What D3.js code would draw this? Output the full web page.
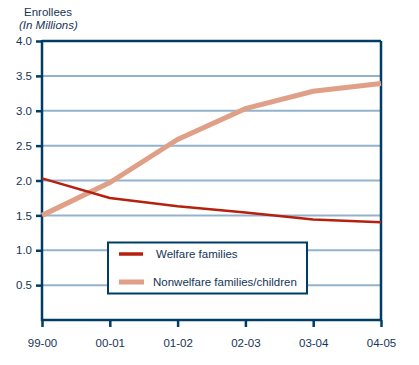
<!DOCTYPE html>
<html><head><meta charset="utf-8">
<script src="https://cdn.jsdelivr.net/npm/d3@7"></script>
<style>body{margin:0;background:#fff}text{font-family:"Liberation Sans",Arial,sans-serif;fill:#163457}</style>
</head><body>
<script>
const categories = ["99-00","00-01","01-02","02-03","03-04","04-05"];
const welfare = [2.03,1.75,1.63,1.54,1.44,1.40];
const nonwelfare = [1.50,1.97,2.59,3.03,3.28,3.39];
const yTicks = [0.5,1.0,1.5,2.0,2.5,3.0,3.5,4.0];
const seriesNames = ["Welfare families","Nonwelfare families/children"];

const W=419,H=365;
const svg=d3.select("body").append("svg").attr("width",W).attr("height",H);
const x=d3.scalePoint().domain(categories).range([42,381]);
const y=d3.scaleLinear().domain([0,4]).range([320,41]);
const dark="#003d66", grid="#93b3cc", fs=11.5;

// gridlines
svg.append("g").selectAll("line").data(yTicks.filter(d=>d<4)).join("line")
 .attr("x1",42).attr("x2",381).attr("y1",d=>y(d)).attr("y2",d=>y(d))
 .attr("stroke",grid).attr("stroke-width",2);
// top line
svg.append("line").attr("x1",42).attr("x2",381).attr("y1",y(4)).attr("y2",y(4)).attr("stroke",dark).attr("stroke-width",2.5);
// right line
svg.append("line").attr("x1",381).attr("x2",381).attr("y1",y(4)).attr("y2",y(0)).attr("stroke",dark).attr("stroke-width",2.5);

// axes
const yAxis=svg.append("g").attr("transform","translate(42,0)")
 .call(d3.axisLeft(y).tickValues(yTicks).tickFormat(d3.format(".1f")).tickSize(6).tickPadding(4));
const xAxis=svg.append("g").attr("transform","translate(0,320)")
 .call(d3.axisBottom(x).tickSize(7).tickPadding(12));
[yAxis,xAxis].forEach(a=>{
 a.select(".domain").attr("stroke",dark).attr("stroke-width",2.5);
 a.selectAll(".tick line").attr("stroke",dark).attr("stroke-width",2.5);
 a.selectAll("text").attr("font-size",fs).style("font-family","Liberation Sans, Arial, sans-serif").attr("fill","#163457");
});
yAxis.select(".domain").attr("d","M0,40V321");
xAxis.select(".domain").attr("d","M41,0H382");

const line=d3.line().x((d,i)=>x(categories[i])).y(d=>y(d));
svg.append("path").datum(nonwelfare).attr("d",line).attr("fill","none").attr("stroke","#e0a088").attr("stroke-width",5);
svg.append("path").datum(welfare).attr("d",line).attr("fill","none").attr("stroke","#b5200f").attr("stroke-width",2.5);

// title
svg.append("text").attr("x",24).attr("y",16).attr("font-size",fs).text("Enrollees");
svg.append("text").attr("x",19).attr("y",29).attr("font-size",fs).attr("font-style","italic").text("(In Millions)");

// legend
const lg=svg.append("g");
lg.append("rect").attr("x",108).attr("y",242.5).attr("width",199).attr("height",51)
 .attr("fill","#fff").attr("stroke",dark).attr("stroke-width",2);
const lcol=["#b5200f","#e0a088"], lw=[3.5,5], ly=[254,282];
seriesNames.forEach((n,i)=>{
 lg.append("line").attr("x1",119).attr("x2",i?144:143).attr("y1",ly[i]).attr("y2",ly[i]).attr("stroke",lcol[i]).attr("stroke-width",lw[i]);
 lg.append("text").attr("x",i?153:156).attr("y",ly[i]+4).attr("font-size",fs).text(n);
});
</script>
</body></html>
